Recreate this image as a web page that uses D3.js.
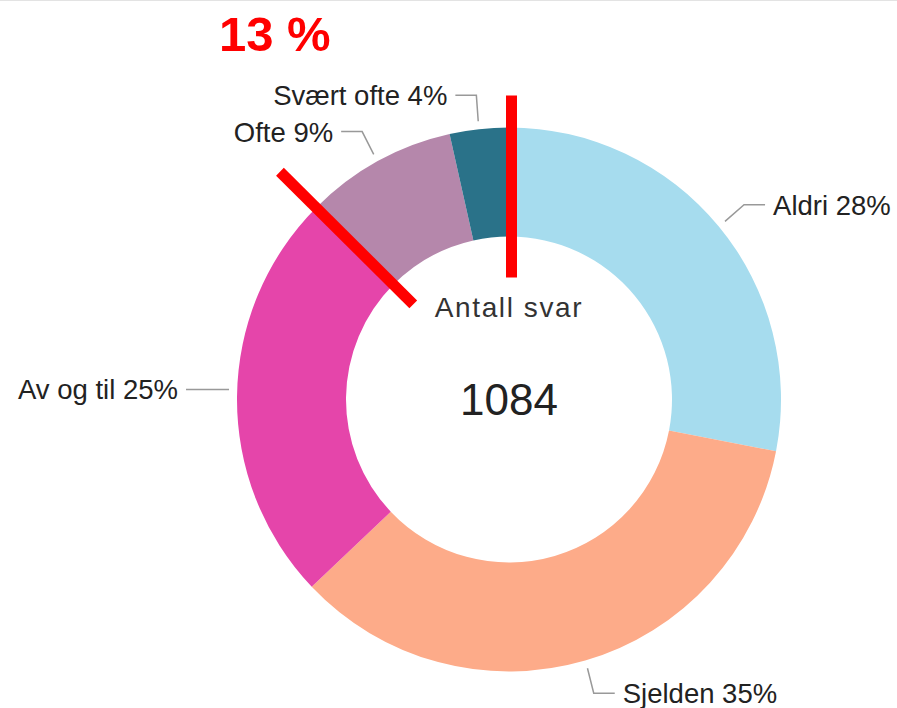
<!DOCTYPE html>
<html>
<head>
<meta charset="utf-8">
<script src="https://cdn.jsdelivr.net/npm/d3@7"></script>
<style>
  html, body { margin: 0; padding: 0; background: #fff; }
  svg { display: block; font-family: "Liberation Sans", Arial, sans-serif; }
</style>
</head>
<body>
<svg id="chart" width="897" height="708"></svg>
<script>
// ---- data ----
const categories = ["Aldri", "Sjelden", "Av og til", "Ofte", "Svært ofte"];
const counts = [304, 378, 266, 98, 38];
const colors = ["#a6dcee", "#fdab89", "#e545aa", "#b587ab", "#2a7289"];
const centerTitle = "Antall svar";
const highlighted = ["Ofte", "Svært ofte"];

// ---- layout ----
const W = 897, H = 708;
const cx = 509, cy = 399.5;
const R = 272, r = 163;
const total = d3.sum(counts);

const svg = d3.select("#chart");
svg.append("line").attr("x1", 0).attr("x2", W).attr("y1", 0.5).attr("y2", 0.5)
  .attr("stroke", "#e3e3e3").attr("stroke-width", 1);

const g = svg.append("g").attr("transform", `translate(${cx},${cy})`);

const data = categories.map((c, i) => ({ name: c, value: counts[i], color: colors[i] }));
const pie = d3.pie().sort(null).value(d => d.value).startAngle(0).endAngle(2 * Math.PI);
const arcs = pie(data);
const arc = d3.arc().innerRadius(r).outerRadius(R);

g.selectAll("path.slice").data(arcs).enter().append("path")
  .attr("class", "slice")
  .attr("d", arc)
  .attr("fill", d => d.data.color);

const pt = (a, rad) => [rad * Math.sin(a), -rad * Math.cos(a)];

// labels with crooked connectors
const P = R + 34;
const lab = g.append("g");
arcs.forEach(d => {
  const a = (d.startAngle + d.endAngle) / 2;
  const side = Math.sin(a) >= 0 ? 1 : -1;
  const horiz = Math.abs(Math.sin(a)) > 0.99;
  let [sx, sy] = pt(a, R + 8);
  if (horiz) sy = Math.min(sy, -10);
  const ly = horiz ? sy : -P * Math.cos(a);
  const lx = P * Math.sin(a) + side * (horiz ? 17 : 20);
  const ex = lx - side * 21;
  const ptsArr = horiz ? [[sx, sy], [lx, sy]] : [[sx, sy], [ex, ly], [lx, ly]];
  lab.append("path")
    .attr("d", d3.line()(ptsArr))
    .attr("fill", "none").attr("stroke", "#999").attr("stroke-width", 1.5);
  const pct = Math.round(d.data.value / total * 100);
  lab.append("text")
    .attr("x", lx + side * 8).attr("y", ly)
    .attr("dy", "0.36em")
    .attr("text-anchor", side > 0 ? "start" : "end")
    .attr("font-size", 27.5).attr("fill", "#222")
    .text(`${d.data.name} ${pct}%`);
});

// center text
g.append("text").attr("x", 0).attr("y", -82.5).attr("text-anchor", "middle")
  .attr("font-size", 28).attr("letter-spacing", "1.6px").attr("fill", "#333").text(centerTitle);
g.append("text").attr("x", 0).attr("y", 15.5).attr("text-anchor", "middle")
  .attr("font-size", 44).attr("fill", "#222").text(total);

// red annotation: share of highlighted categories
const hiArcs = arcs.filter(d => highlighted.includes(d.data.name));
const hiStart = d3.min(hiArcs, d => d.startAngle);
const hiEnd = d3.max(hiArcs, d => d.endAngle);
const hiShare = d3.sum(hiArcs, d => d.data.value) / total;

const ann = svg.append("g");
const drawRay = (a, r1, r2, dx) => {
  const [x1, y1] = pt(a, r1), [x2, y2] = pt(a, r2);
  ann.append("line")
    .attr("x1", cx + x1 + dx).attr("y1", cy + y1)
    .attr("x2", cx + x2 + dx).attr("y2", cy + y2)
    .attr("stroke", "#ff0000").attr("stroke-width", 11);
};
drawRay(hiEnd, 122, 304, 2.5);
drawRay(hiStart, 135, 323, 0);

ann.append("text").attr("x", 219).attr("y", 51)
  .attr("font-size", 49).attr("font-weight", "bold").attr("fill", "#ff0000")
  .text(`${Math.round(hiShare * 100)} %`);
</script>
</body>
</html>
